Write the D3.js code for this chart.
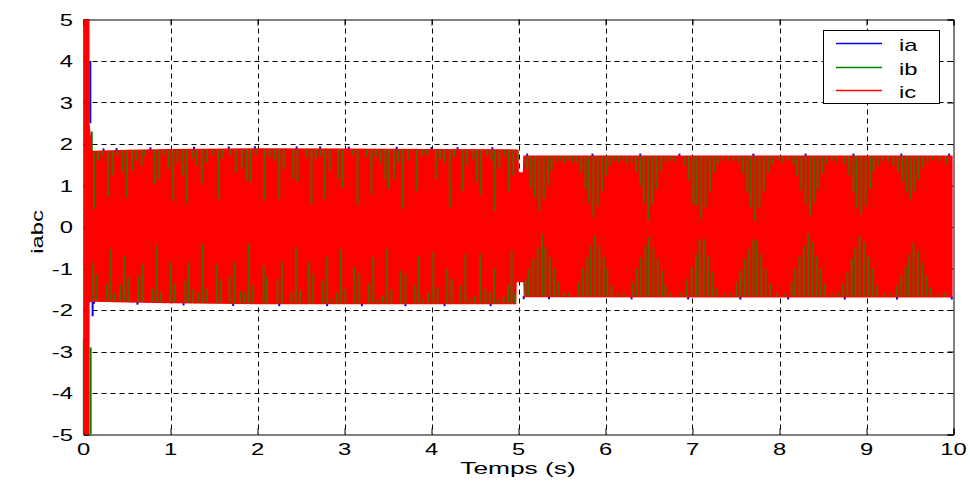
<!DOCTYPE html>
<html><head><meta charset="utf-8">
<script src="https://cdn.jsdelivr.net/npm/d3@7"></script>
<style>
html,body{margin:0;padding:0;background:#fff;}
svg text{font-family:"Liberation Sans",Arial,Helvetica,sans-serif;fill:#000;}
</style></head>
<body>
<svg id="chart" width="970" height="485"></svg>
<script>
// ---------- data ----------
const xTickLabels = ["0","1","2","3","4","5","6","7","8","9","10"];
const yTickLabels = ["-5","-4","-3","-2","-1","0","1","2","3","4","5"];
const xTicks = [0,1,2,3,4,5,6,7,8,9,10];
const yTicks = [-5,-4,-3,-2,-1,0,1,2,3,4,5];
const seriesNames = ["ia","ib","ic"];
const seriesColors = ["#0000ff","#008000","#ff0000"];

// envelope of the dense ic oscillation (red band)
const envT     = [0, 0.069, 0.070, 0.10, 0.5, 1.0, 2.0, 3.0, 4.0, 4.975, 4.98, 5.0, 5.005, 5.05, 5.055, 5.06, 7.5, 9.99];
const envUpper = [5, 5, 2.5, 1.84, 1.86, 1.88, 1.90, 1.89, 1.88, 1.87, 1.87, 1.86, 1.32, 1.32, 1.72, 1.72, 1.72, 1.72];
const envLower = [-5, -5, -1.82, -1.80, -1.82, -1.84, -1.86, -1.86, -1.86, -1.86, -1.33, -1.33, -1.33, -1.33, -1.33, -1.69, -1.70, -1.70];

// start-up transient strokes
const transSeries = [0, 1, 1, 1, 0];
const transT  = [0.078, 0.095, 0.004, 0.082, 0.105];
const transV0 = [2.5, 2.3, -2.7, -2.9, -1.8];
const transV1 = [4.0, 0.45, -5, -5, -2.15];

// visible ib strokes hanging down from the top of the band (0-5 s)
const topT_a = [0.12,0.17,0.22,0.28,0.34,0.39,0.45,0.50,0.56,0.61,0.67,0.70,0.82,0.87,0.92,0.98,1.03,1.08,1.14,1.19,1.25,1.30,1.36,1.42,1.49,1.55,1.60,1.69,1.75,1.82,1.88,1.92,1.98,2.08,2.14,2.20,2.25];
const topV_a = [0.43,1.60,1.72,0.75,1.24,1.72,1.32,0.71,1.36,1.60,1.48,1.72,1.04,1.16,1.72,1.40,0.63,1.56,1.24,0.59,1.64,1.48,1.04,1.56,1.72,0.67,1.64,1.72,1.32,1.40,1.12,1.08,1.72,0.63,1.68,1.60,0.67];
const topT_b = [2.30,2.41,2.46,2.56,2.62,2.67,2.73,2.77,2.83,2.93,2.98,3.09,3.15,3.25,3.31,3.36,3.41,3.47,3.51,3.57,3.62,3.67,3.73,3.83,3.89,3.95,4.05,4.10,4.15,4.21,4.26,4.36,4.41,4.48,4.52,4.57,4.64,4.69,4.73,4.78,4.84,4.89,4.94,4.99];
const topV_b = [1.40,1.16,1.08,1.68,0.55,1.64,1.72,0.67,1.36,1.16,0.96,1.72,0.55,1.68,0.79,1.68,1.56,1.16,0.91,1.16,1.56,0.43,1.60,0.87,1.72,1.72,1.16,1.64,1.56,0.47,1.68,0.87,1.48,1.64,1.08,0.79,1.72,1.60,0.39,1.40,1.72,0.87,1.24,1.60];
// strokes rising from the bottom of the band (0-5 s)
const botT_a = [0.11,0.15,0.27,0.31,0.36,0.42,0.47,0.52,0.63,0.68,0.79,0.84,0.89,1.00,1.05,1.17,1.21,1.26,1.32,1.37,1.42,1.53,1.58,1.68,1.74,1.80,1.85,1.90,1.95,2.07,2.11,2.23];
const botV_a = [-0.85,-1.13,-1.37,-0.53,-1.58,-1.41,-0.69,-1.21,-1.17,-0.89,-1.49,-0.45,-1.58,-0.85,-1.37,-1.29,-0.85,-1.49,-1.58,-0.41,-1.49,-0.89,-1.25,-1.17,-0.85,-1.53,-1.58,-0.41,-1.41,-0.93,-1.21,-1.25];
const botT_b = [2.28,2.39,2.44,2.49,2.59,2.64,2.75,2.80,2.85,2.91,2.96,3.01,3.11,3.17,3.28,3.33,3.38,3.44,3.49,3.54,3.65,3.70,3.81,3.85,3.90,3.96,4.02,4.07,4.18,4.23,4.33,4.39,4.44,4.50,4.56,4.62,4.67,4.72,4.77,4.83,4.88,4.92,4.96];
const botV_b = [-0.85,-1.58,-0.49,-1.53,-0.85,-1.13,-1.29,-0.73,-1.74,-1.58,-0.53,-1.49,-0.97,-1.13,-1.37,-0.73,-1.74,-1.66,-0.53,-1.53,-1.05,-1.13,-1.41,-0.69,-1.74,-1.58,-0.61,-1.45,-1.01,-1.25,-1.41,-0.65,-1.74,-1.66,-0.65,-1.49,-1.58,-1.01,-1.74,-1.66,-1.41,-0.57,-1.62];

// 5-10 s : beat lobes, strokes from the top
const topT_c = [5.10,5.145,5.19,5.24,5.29,5.34,5.38,5.43,5.48,5.53,5.58,5.62,
                5.67,5.72,5.77,5.81,5.86,5.91,5.96,6.01,6.05,6.10,6.15,6.20,6.25,
                6.30,6.35,6.40,6.44,6.49,6.54,6.59,6.64,6.69,6.74,6.80,
                6.91,6.96,7.01,7.05,7.10,7.15,7.20,7.25,7.29,7.35,7.41,7.47,
                7.53,7.58,7.63,7.67,7.72,7.77,7.82,7.87,7.92,7.98,8.04,8.10,
                8.16,8.20,8.25,8.30,8.35,8.40,8.44,8.49,8.54,8.60,8.66,
                8.75,8.80,8.85,8.89,8.94,8.99,9.04,9.08,9.13,9.19,9.25,
                9.31,9.36,9.41,9.46,9.51,9.55,9.60,9.65,9.70,9.76,9.84,9.92];
const topV_c = [1.40,0.96,0.71,0.39,0.67,1.00,1.36,1.56,1.60,1.52,1.62,1.56,
                1.56,1.32,0.91,0.59,0.23,0.51,0.87,1.24,1.48,1.60,1.55,1.62,1.52,
                1.56,1.32,1.00,0.59,0.15,0.55,0.91,1.32,1.56,1.60,1.58,
                1.48,1.12,0.55,0.51,0.19,0.47,0.87,1.32,1.52,1.62,1.58,1.60,
                1.56,1.28,0.83,0.47,0.15,0.47,0.87,1.32,1.52,1.62,1.56,1.60,
                1.52,1.24,0.87,0.55,0.27,0.59,0.91,1.28,1.52,1.60,1.58,
                1.52,1.24,0.83,0.47,0.31,0.51,0.91,1.32,1.48,1.60,1.58,
                1.48,1.32,1.08,0.83,0.67,0.87,1.16,1.40,1.56,1.62,1.58,1.52];
// 5-10 s : strokes from the bottom
const botT_c = [5.08,5.12,5.17,5.22,5.27,5.31,5.36,5.41,5.46,5.52,5.58,
                5.69,5.74,5.79,5.83,5.88,5.93,5.98,6.02,6.07,6.14,6.21,
                6.31,6.36,6.41,6.46,6.50,6.55,6.60,6.65,6.69,6.75,
                6.87,6.93,6.99,7.04,7.08,7.13,7.18,7.23,7.28,7.36,7.44,
                7.51,7.55,7.60,7.65,7.70,7.74,7.79,7.84,7.89,7.97,8.06,
                8.14,8.18,8.23,8.28,8.33,8.38,8.43,8.47,8.52,8.60,8.67,
                8.73,8.78,8.83,8.87,8.92,8.97,9.02,9.07,9.12,9.20,9.28,
                9.35,9.40,9.45,9.49,9.54,9.59,9.64,9.69,9.74,9.82,9.90];
const botV_c = [-1.25,-1.01,-0.77,-0.49,-0.17,-0.49,-0.73,-1.01,-1.33,-1.58,-1.60,
                -1.33,-1.01,-0.73,-0.45,-0.21,-0.45,-0.73,-1.01,-1.41,-1.58,-1.60,
                -1.33,-1.01,-0.73,-0.45,-0.25,-0.49,-0.77,-1.05,-1.41,-1.58,
                -1.58,-1.25,-0.97,-0.65,-0.29,-0.29,-0.69,-1.09,-1.49,-1.60,-1.58,
                -1.33,-1.05,-0.77,-0.53,-0.29,-0.33,-0.65,-1.01,-1.37,-1.58,-1.60,
                -1.33,-1.01,-0.69,-0.45,-0.17,-0.37,-0.69,-1.01,-1.37,-1.60,-1.58,
                -1.37,-1.09,-0.77,-0.49,-0.21,-0.37,-0.69,-1.01,-1.41,-1.58,-1.60,
                -1.41,-1.17,-0.93,-0.65,-0.37,-0.57,-0.85,-1.17,-1.45,-1.60,-1.58];

// ia peaks showing just beyond the band edges
const blueTopT = [0.23,0.38,0.77,1.27,1.67,1.97,2.45,2.72,3.05,3.60,4.00,4.30,4.70,5.10,5.85,6.40,6.85,7.70,8.30,8.85,9.40,9.95];
const blueBotT = [0.12,0.62,1.15,1.72,2.25,2.80,3.20,3.70,4.15,4.68,5.06,5.35,6.30,6.95,7.55,8.10,8.75,9.35,9.98];

// ---------- drawing ----------
const svg = d3.select("#chart");
const x = d3.scaleLinear().domain([0,10]).range([83.5,953.5]);
const y = d3.scaleLinear().domain([-5,5]).range([434.5,19.5]);
const upperAt = d3.scaleLinear().domain(envT).range(envUpper);
const lowerAt = d3.scaleLinear().domain(envT).range(envLower);
const SX = 1.4; // MATLAB font is wide

// grid (under data)
const g = svg.append("g");
g.selectAll(".gx").data(xTicks.slice(1,-1)).join("line")
  .attr("x1",d=>Math.round(x(d))+0.5).attr("x2",d=>Math.round(x(d))+0.5)
  .attr("y1",y(5)).attr("y2",y(-5))
  .attr("stroke","#000").attr("stroke-width",1).attr("stroke-dasharray","5,4");
g.selectAll(".gy").data(yTicks.slice(1,-1)).join("line")
  .attr("y1",d=>Math.round(y(d))+0.5).attr("y2",d=>Math.round(y(d))+0.5)
  .attr("x1",x(0)).attr("x2",x(10))
  .attr("stroke","#000").attr("stroke-width",1).attr("stroke-dasharray","5,4");

// axes box + inward ticks
const axB = d3.axisBottom(x).tickValues(xTicks).tickSize(-6).tickFormat("");
const axT = d3.axisTop(x).tickValues(xTicks).tickSize(-6).tickFormat("");
const axL = d3.axisLeft(y).tickValues(yTicks).tickSize(-6).tickFormat("");
const axR = d3.axisRight(y).tickValues(yTicks).tickSize(-6).tickFormat("");
[[axB,`translate(0,${y(-5)})`],[axT,`translate(0,${y(5)})`],[axL,`translate(${x(0)},0)`],[axR,`translate(${x(10)},0)`]]
 .forEach(([a,t])=>{
   const ga = svg.append("g").attr("transform",t).call(a);
   ga.select(".domain").attr("stroke","#000").attr("stroke-width",1);
   ga.selectAll(".tick line").attr("stroke","#000");
 });

// ia fringe (blue) just beyond band edges
const data = svg.append("g");
data.selectAll(".bt").data(blueTopT).join("rect")
  .attr("x",d=>x(d)-1).attr("width",2)
  .attr("y",d=>y(upperAt(d))-2).attr("height",3)
  .attr("fill","#0000ff");
data.selectAll(".bb").data(blueBotT).join("rect")
  .attr("x",d=>x(d)-1).attr("width",2)
  .attr("y",d=>y(lowerAt(d))-1).attr("height",3)
  .attr("fill","#0000ff");

// transient strokes
data.selectAll(".tr").data(transT.map((t,i)=>({t,v0:transV0[i],v1:transV1[i],s:transSeries[i]}))).join("line")
  .attr("x1",d=>x(d.t)).attr("x2",d=>x(d.t)).attr("y1",d=>y(d.v0)).attr("y2",d=>y(d.v1))
  .attr("stroke",d=>seriesColors[d.s]).attr("stroke-width",2);

// ic band (red)
const area = d3.area().x((d,i)=>x(envT[i])).y0((d,i)=>y(envLower[i])).y1((d,i)=>y(envUpper[i]));
data.append("path").attr("d",area(envT)).attr("fill","#ff0000");

// ib strokes visible over the band
const olive = "#4a6a00";
const topT = topT_a.concat(topT_b, topT_c), topV = topV_a.concat(topV_b, topV_c);
const botT = botT_a.concat(botT_b, botT_c), botV = botV_a.concat(botV_b, botV_c);
data.selectAll(".st").data(topT.map((t,i)=>({t,v:topV[i]}))).join("line")
  .attr("x1",d=>x(d.t)).attr("x2",d=>x(d.t))
  .attr("y1",d=>y(upperAt(d.t))+1).attr("y2",d=>y(d.v))
  .attr("stroke",olive).attr("stroke-width",2);
data.selectAll(".sb").data(botT.map((t,i)=>({t,v:botV[i]}))).join("line")
  .attr("x1",d=>x(d.t)).attr("x2",d=>x(d.t))
  .attr("y1",d=>y(lowerAt(d.t))-1).attr("y2",d=>y(d.v))
  .attr("stroke",olive).attr("stroke-width",2);

// tick labels
svg.selectAll(".xl").data(xTicks).join("text")
  .attr("transform",d=>`translate(${x(d)},455) scale(${SX},1)`)
  .attr("text-anchor","middle").attr("font-size",17).text((d,i)=>xTickLabels[i]);
svg.selectAll(".yl").data(yTicks).join("text")
  .attr("transform",d=>`translate(73,${y(d)+6}) scale(${SX},1)`)
  .attr("text-anchor","end").attr("font-size",17).text((d,i)=>yTickLabels[i]);

// axis titles
svg.append("text").attr("transform",`translate(518,474) scale(1.55,1)`)
  .attr("text-anchor","middle").attr("font-size",17).text("Temps (s)");
svg.append("text").attr("transform",`translate(43,232) rotate(-90) scale(${SX},1)`)
  .attr("text-anchor","middle").attr("font-size",17).text("iabc");

// legend
const lg = svg.append("g");
lg.append("rect").attr("x",823.5).attr("y",30.5).attr("width",116).attr("height",73)
  .attr("fill","#fff").attr("stroke","#000").attr("stroke-width",1);
const legY = [43.5, 67.5, 90.5];
seriesNames.forEach((n,i)=>{
  lg.append("line").attr("x1",836).attr("x2",882).attr("y1",legY[i]).attr("y2",legY[i])
    .attr("stroke",seriesColors[i]).attr("stroke-width",1.5);
  lg.append("text").attr("transform",`translate(899,${legY[i]+7}) scale(${SX},1)`)
    .attr("font-size",17).text(n);
});
</script>
</body></html>
